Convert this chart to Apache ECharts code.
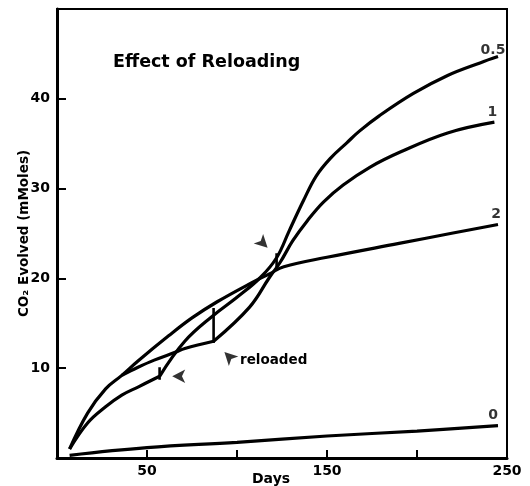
<!DOCTYPE html>
<html>
<head>
<meta charset="utf-8">
<script src="https://cdn.jsdelivr.net/npm/echarts@6/dist/echarts.min.js"></script>
<style>html,body{margin:0;background:#fff}#main{width:530px;height:486px}</style>
</head>
<body>
<div id="main"></div>
<script>
// curve "0"
var days0 = [7, 50, 100, 150, 200, 245];
var co2_0 = [0.3, 1.15, 1.75, 2.45, 3.0, 3.6];
// curve "2"
var days2 = [7, 17, 27, 36, 45, 62, 75, 89, 108, 118, 126, 150, 190, 220, 245];
var co2_2 = [1.0, 5.0, 7.7, 9.2, 10.8, 13.6, 15.6, 17.4, 19.5, 20.5, 21.3, 22.35, 23.9, 25.05, 26.0];
// curve "0.5", before and after first reload
var halfDaysA = [7, 17, 27, 36, 45, 57];
var halfA = [1.0, 3.9, 5.7, 7.0, 7.9, 9.1];
var halfDaysB = [57, 71, 87, 100, 113, 122, 129, 137, 144, 152, 161, 168, 179, 198, 217, 235, 245];
var halfB = [9.1, 13.0, 15.9, 17.9, 20.1, 22.3, 25.3, 28.7, 31.4, 33.4, 35.1, 36.4, 38.1, 40.6, 42.6, 44.0, 44.7];
// curve "1", leaves curve "2" at day 36, reloaded at day 87
var oneDaysA = [36, 45, 54, 66, 71, 87];
var oneA = [9.2, 10.1, 10.9, 11.8, 12.2, 13.0];
var oneDaysB = [87, 107, 118, 124, 131, 139, 148, 159, 174, 191, 217, 243];
var oneB = [13.0, 16.8, 20.1, 21.8, 24.2, 26.4, 28.5, 30.4, 32.4, 34.1, 36.2, 37.4];
// reload marks
var tickDays = [57, 87, 122];
var tickLow = [8.7, 12.8, 21.2];
var tickHigh = [10.1, 16.7, 22.8];
var arrowDays = [64, 93, 117];
var arrowCo2 = [9.1, 11.8, 23.4];
var arrowAngles = [90, 45, -135];
var curveNames = ['0', '2', '0.5', '1'];

var ink = '#000';
var font = 'DejaVu Sans';

function zip(xs, ys) {
    var out = [];
    for (var i = 0; i < xs.length; i++) out.push([xs[i], ys[i]]);
    return out;
}
function seg(xs, ys, w) {
    return {
        type: 'line', data: zip(xs, ys), smooth: 0.4, showSymbol: false,
        lineStyle: {color: ink, width: w || 3.2}, silent: true
    };
}

var series = [
    seg(days0, co2_0),
    seg(days2, co2_2),
    seg(halfDaysA, halfA),
    seg(halfDaysB, halfB),
    seg(oneDaysA, oneA),
    seg(oneDaysB, oneB)
];
for (var i = 0; i < tickDays.length; i++) {
    series.push(seg([tickDays[i], tickDays[i]], [tickLow[i], tickHigh[i]], 2.6));
}
series.push({
    type: 'scatter', symbol: 'arrow', symbolSize: [10, 13], silent: true,
    itemStyle: {color: ink},
    data: arrowDays.map(function (d, i) {
        return {value: [d, arrowCo2[i]], symbolRotate: arrowAngles[i]};
    })
});

var ends = [
    [days0, co2_0, [-5, -10]],
    [days2, co2_2, [-2, -10]],
    [halfDaysB, halfB, [-5, -6]],
    [oneDaysB, oneB, [-2, -10]]
];
series.push({
    type: 'scatter', symbolSize: 0, silent: true,
    data: ends.map(function (e, i) {
        var n = e[0].length - 1;
        return {
            value: [e[0][n], e[1][n]],
            label: {show: true, position: 'inside', offset: e[2], formatter: curveNames[i]}
        };
    }),
    label: {color: ink, fontFamily: font, fontWeight: 'bold', fontSize: 14}
});

var myChart = echarts.init(document.getElementById('main'));
myChart.setOption({
    animation: false,
    backgroundColor: '#fff',
    grid: {left: 57, right: 23, top: 9, bottom: 28, containLabel: false,
        show: true, borderColor: ink, borderWidth: 2},
    xAxis: {
        type: 'value', min: 0, max: 250, interval: 50,
        axisLine: {lineStyle: {color: ink, width: 3}},
        axisTick: {inside: true, length: 8, lineStyle: {color: ink, width: 2}},
        axisLabel: {
            margin: 6, color: ink, fontFamily: font, fontWeight: 'bold', fontSize: 14,
            formatter: function (v) { return (v == 50 || v == 150 || v == 250) ? v : ''; }
        },
        splitLine: {show: false}
    },
    yAxis: {
        type: 'value', min: 0, max: 50, interval: 10,
        name: 'CO₂ Evolved (mMoles)', nameLocation: 'middle', nameGap: 26,
        nameMoveOverlap: false,
        nameTextStyle: {color: ink, fontFamily: font, fontWeight: 'bold', fontSize: 13.5},
        axisLine: {lineStyle: {color: ink, width: 3}},
        axisTick: {inside: true, length: 9, lineStyle: {color: ink, width: 2}},
        axisLabel: {
            margin: 7, color: ink, fontFamily: font, fontWeight: 'bold', fontSize: 14,
            formatter: function (v) { return (v > 0 && v < 50) ? v : ''; }
        },
        splitLine: {show: false}
    },
    graphic: [
        {type: 'text', left: 113, top: 53,
            style: {text: 'Effect of Reloading', fill: ink, font: 'bold 17.5px "DejaVu Sans"'}},
        {type: 'text', left: 240, top: 353,
            style: {text: 'reloaded', fill: ink, font: 'bold 13.5px "DejaVu Sans"'}},
        {type: 'text', left: 252, top: 472,
            style: {text: 'Days', fill: ink, font: 'bold 14px "DejaVu Sans"'}}
    ],
    series: series
});
</script>
</body>
</html>
